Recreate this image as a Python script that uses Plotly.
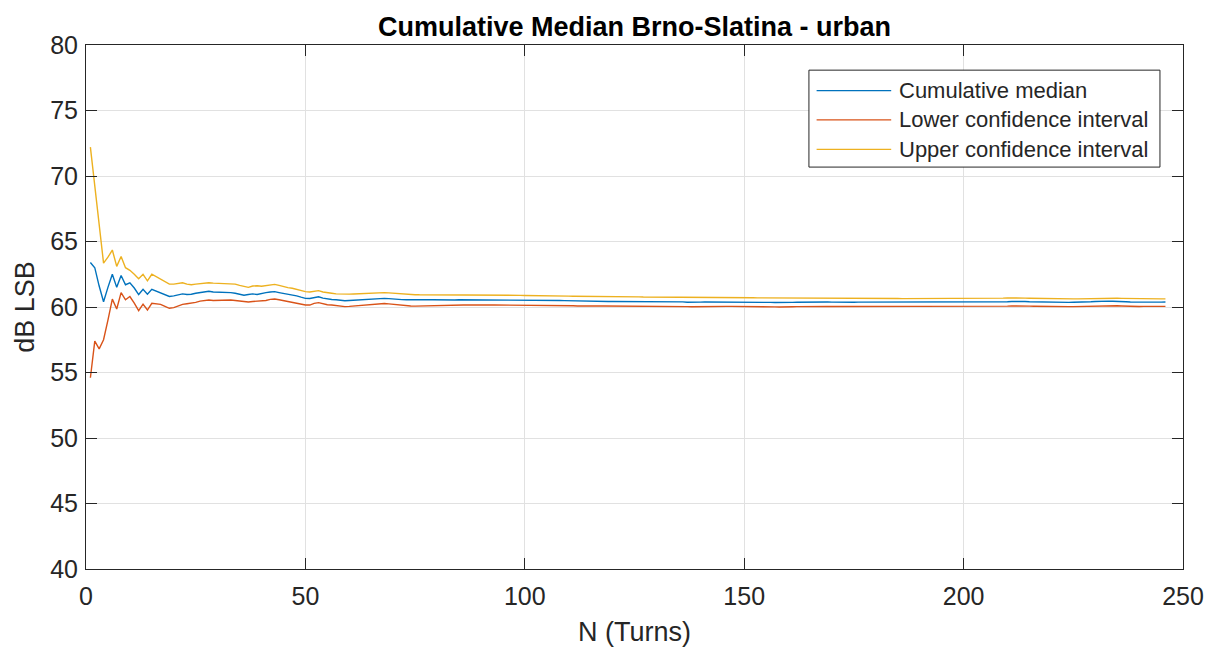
import plotly.graph_objects as go

# Turn index
turns = list(range(1, 247))

# Cumulative median of the measured level (dB LSB)
cum_median = [
    63.40, 63.00, 61.60, 60.40, 61.50, 62.50, 61.50, 62.40, 61.70, 61.85,
    61.45, 60.95, 61.35, 60.97, 61.35, 61.20, 61.10, 60.95, 60.80, 60.85,
    60.90, 61.00, 60.95, 60.97, 61.05, 61.10, 61.15, 61.20, 61.15, 61.15,
    61.10, 61.12, 61.10, 61.05, 61.00, 60.90, 60.95, 61.00, 60.95, 61.05,
    61.10, 61.15, 61.17, 61.10, 61.05, 61.00, 60.92, 60.85, 60.75, 60.66,
    60.65, 60.72, 60.78, 60.68, 60.60, 60.57, 60.55, 60.50, 60.48, 60.50,
    60.52, 60.55, 60.58, 60.60, 60.62, 60.64, 60.66, 60.66, 60.64, 60.60,
    60.58, 60.56, 60.55, 60.54, 60.53, 60.53, 60.54, 60.55, 60.55, 60.54,
    60.53, 60.53, 60.54, 60.54, 60.55, 60.55, 60.54, 60.53, 60.53, 60.53,
    60.54, 60.54, 60.53, 60.53, 60.53, 60.54, 60.54, 60.53, 60.53, 60.53,
    60.53, 60.52, 60.52, 60.51, 60.51, 60.50, 60.50, 60.50, 60.49, 60.48,
    60.46, 60.44, 60.43, 60.43, 60.42, 60.42, 60.43, 60.43, 60.42, 60.42,
    60.42, 60.42, 60.42, 60.42, 60.42, 60.42, 60.42, 60.41, 60.40, 60.38,
    60.37, 60.38, 60.40, 60.42, 60.41, 60.39, 60.36, 60.35, 60.36, 60.37,
    60.38, 60.38, 60.38, 60.38, 60.38, 60.38, 60.38, 60.38, 60.38, 60.38,
    60.38, 60.39, 60.40, 60.39, 60.37, 60.35, 60.34, 60.33, 60.32, 60.33,
    60.35, 60.36, 60.37, 60.37, 60.36, 60.36, 60.37, 60.38, 60.38, 60.37,
    60.36, 60.36, 60.36, 60.36, 60.36, 60.37, 60.37, 60.36, 60.36, 60.36,
    60.36, 60.36, 60.36, 60.36, 60.36, 60.35, 60.35, 60.35, 60.35, 60.35,
    60.35, 60.35, 60.35, 60.35, 60.35, 60.35, 60.35, 60.35, 60.35, 60.35,
    60.35, 60.36, 60.36, 60.37, 60.37, 60.38, 60.38, 60.38, 60.39, 60.40,
    60.42, 60.43, 60.43, 60.42, 60.40, 60.39, 60.38, 60.37, 60.36, 60.35,
    60.35, 60.35, 60.35, 60.35, 60.36, 60.36, 60.37, 60.38, 60.40, 60.42,
    60.44, 60.45, 60.45, 60.44, 60.44, 60.42, 60.40, 60.38, 60.37, 60.37,
    60.38, 60.38, 60.38, 60.37, 60.37, 60.38,
]

# Lower bound of the confidence interval
lower_ci = [
    54.60, 57.40, 56.80, 57.50, 59.00, 60.60, 59.85, 61.10, 60.55, 60.80,
    60.30, 59.72, 60.22, 59.77, 60.28, 60.22, 60.20, 60.05, 59.90, 59.95,
    60.10, 60.20, 60.25, 60.28, 60.35, 60.45, 60.50, 60.53, 60.50, 60.52,
    60.50, 60.52, 60.53, 60.50, 60.45, 60.38, 60.38, 60.42, 60.45, 60.45,
    60.50, 60.58, 60.61, 60.55, 60.48, 60.42, 60.36, 60.30, 60.20, 60.15,
    60.15, 60.28, 60.33, 60.25, 60.17, 60.15, 60.10, 60.05, 60.03, 60.05,
    60.08, 60.12, 60.16, 60.20, 60.23, 60.26, 60.28, 60.27, 60.24, 60.20,
    60.16, 60.13, 60.10, 60.08, 60.07, 60.08, 60.10, 60.12, 60.13, 60.13,
    60.13, 60.13, 60.14, 60.14, 60.15, 60.15, 60.15, 60.14, 60.14, 60.14,
    60.15, 60.15, 60.15, 60.15, 60.15, 60.15, 60.15, 60.15, 60.15, 60.15,
    60.15, 60.15, 60.14, 60.14, 60.14, 60.14, 60.13, 60.13, 60.13, 60.12,
    60.10, 60.08, 60.07, 60.07, 60.07, 60.07, 60.08, 60.08, 60.08, 60.08,
    60.08, 60.08, 60.08, 60.08, 60.08, 60.08, 60.08, 60.07, 60.06, 60.05,
    60.04, 60.05, 60.07, 60.08, 60.07, 60.05, 60.03, 60.02, 60.03, 60.04,
    60.05, 60.05, 60.05, 60.05, 60.05, 60.05, 60.05, 60.05, 60.05, 60.05,
    60.05, 60.06, 60.06, 60.05, 60.04, 60.02, 60.01, 60.00, 59.99, 60.00,
    60.02, 60.03, 60.04, 60.04, 60.03, 60.03, 60.04, 60.05, 60.05, 60.04,
    60.04, 60.04, 60.04, 60.04, 60.04, 60.04, 60.04, 60.03, 60.03, 60.03,
    60.03, 60.03, 60.03, 60.03, 60.03, 60.03, 60.03, 60.02, 60.02, 60.02,
    60.02, 60.02, 60.02, 60.02, 60.02, 60.02, 60.02, 60.02, 60.02, 60.02,
    60.02, 60.03, 60.03, 60.04, 60.04, 60.05, 60.05, 60.05, 60.06, 60.07,
    60.08, 60.09, 60.09, 60.08, 60.07, 60.06, 60.05, 60.04, 60.03, 60.03,
    60.03, 60.03, 60.03, 60.03, 60.03, 60.04, 60.04, 60.05, 60.06, 60.08,
    60.10, 60.11, 60.11, 60.10, 60.09, 60.08, 60.06, 60.05, 60.04, 60.04,
    60.05, 60.05, 60.05, 60.04, 60.04, 60.05,
]

# Upper bound of the confidence interval
upper_ci = [
    72.20, 69.40, 66.40, 63.35, 63.80, 64.35, 63.10, 63.85, 63.00, 62.80,
    62.50, 62.15, 62.50, 62.00, 62.50, 62.30, 62.15, 61.90, 61.75, 61.75,
    61.80, 61.85, 61.75, 61.70, 61.75, 61.80, 61.85, 61.85, 61.82, 61.80,
    61.78, 61.80, 61.78, 61.75, 61.65, 61.55, 61.50, 61.60, 61.62, 61.58,
    61.62, 61.70, 61.73, 61.65, 61.55, 61.48, 61.43, 61.35, 61.25, 61.17,
    61.15, 61.22, 61.25, 61.15, 61.08, 61.05, 61.00, 60.98, 60.97, 60.98,
    60.99, 61.01, 61.03, 61.05, 61.07, 61.09, 61.10, 61.10, 61.08, 61.05,
    61.02, 61.00, 60.98, 60.96, 60.94, 60.93, 60.93, 60.94, 60.94, 60.94,
    60.93, 60.93, 60.93, 60.93, 60.94, 60.94, 60.93, 60.92, 60.92, 60.92,
    60.92, 60.91, 60.91, 60.90, 60.90, 60.90, 60.90, 60.89, 60.89, 60.88,
    60.88, 60.87, 60.86, 60.86, 60.85, 60.85, 60.84, 60.84, 60.83, 60.83,
    60.82, 60.82, 60.81, 60.81, 60.80, 60.80, 60.80, 60.79, 60.79, 60.79,
    60.78, 60.78, 60.78, 60.77, 60.77, 60.77, 60.76, 60.76, 60.76, 60.75,
    60.75, 60.75, 60.75, 60.74, 60.74, 60.74, 60.73, 60.73, 60.73, 60.73,
    60.72, 60.72, 60.72, 60.72, 60.72, 60.71, 60.71, 60.71, 60.71, 60.71,
    60.71, 60.71, 60.70, 60.70, 60.70, 60.70, 60.70, 60.69, 60.69, 60.69,
    60.69, 60.69, 60.69, 60.69, 60.68, 60.68, 60.68, 60.68, 60.68, 60.67,
    60.67, 60.67, 60.67, 60.67, 60.66, 60.66, 60.66, 60.66, 60.66, 60.65,
    60.65, 60.65, 60.65, 60.65, 60.65, 60.64, 60.64, 60.64, 60.64, 60.64,
    60.64, 60.64, 60.64, 60.63, 60.63, 60.63, 60.63, 60.63, 60.63, 60.63,
    60.63, 60.63, 60.64, 60.64, 60.65, 60.65, 60.66, 60.67, 60.68, 60.69,
    60.70, 60.70, 60.69, 60.68, 60.67, 60.66, 60.65, 60.64, 60.63, 60.63,
    60.62, 60.62, 60.62, 60.62, 60.62, 60.62, 60.63, 60.64, 60.65, 60.67,
    60.68, 60.69, 60.69, 60.68, 60.67, 60.66, 60.65, 60.64, 60.63, 60.63,
    60.63, 60.62, 60.62, 60.62, 60.62, 60.62,
]

series_names = ["Cumulative median", "Lower confidence interval", "Upper confidence interval"]
series_colors = ["#0072BD", "#D95319", "#EDB120"]
x_ticks = [0, 50, 100, 150, 200, 250]
y_ticks = [40, 45, 50, 55, 60, 65, 70, 75, 80]

AXIS_COLOR = "#262626"
FONT = "Liberation Sans, Arial, Helvetica, sans-serif"

fig = go.Figure()
for name, values, color in zip(series_names, [cum_median, lower_ci, upper_ci], series_colors):
    fig.add_trace(go.Scatter(
        x=turns, y=values, mode="lines", name=name,
        line=dict(color=color, width=1.4),
        showlegend=False,
    ))

axis_common = dict(
    showline=True, linecolor=AXIS_COLOR, linewidth=1, mirror="ticks",
    ticks="inside", ticklen=11, tickcolor=AXIS_COLOR, tickwidth=1,
    showgrid=True, gridcolor="#e1e1e1", gridwidth=1,
    zeroline=False, automargin=False,
    tickfont=dict(family=FONT, size=25, color=AXIS_COLOR),
)

fig.update_xaxes(
    range=[0, 250], tickvals=x_ticks, ticktext=[str(v) for v in x_ticks],
    title=dict(text="N (Turns)", font=dict(family=FONT, size=27, color=AXIS_COLOR), standoff=13),
    ticklabelstandoff=5,
    **axis_common,
)
fig.update_yaxes(
    range=[40, 80], tickvals=y_ticks, ticktext=[str(v) for v in y_ticks],
    title=dict(text="dB LSB", font=dict(family=FONT, size=27, color=AXIS_COLOR), standoff=7),
    ticklabelstandoff=2,
    **axis_common,
)

# Legend panel drawn in plot-area paper coordinates
lx0, lx1, ly0, ly1 = 0.659, 0.979, 0.767, 0.952
shapes = [dict(type="rect", xref="paper", yref="paper", x0=lx0, x1=lx1, y0=ly0, y1=ly1,
               line=dict(color=AXIS_COLOR, width=1), fillcolor="white", layer="above")]
annotations = []
row_y = [0.913, 0.857, 0.801]
for name, color, yy in zip(series_names, series_colors, row_y):
    shapes.append(dict(type="line", xref="paper", yref="paper", x0=0.666, x1=0.734, y0=yy, y1=yy,
                       line=dict(color=color, width=1.3), layer="above"))
    annotations.append(dict(xref="paper", yref="paper", x=0.739, y=yy, text=name,
                            showarrow=False, xanchor="left", yanchor="middle",
                            font=dict(family=FONT, size=22, color=AXIS_COLOR)))

fig.update_layout(
    width=1207, height=647,
    margin=dict(l=86, r=24, t=45, b=78),
    paper_bgcolor="white", plot_bgcolor="white",
    title=dict(text="<b>Cumulative Median Brno-Slatina - urban</b>",
               font=dict(family=FONT, size=27, color="black"),
               x=0.5257, xanchor="center", xref="container",
               y=1 - 27 / 647, yanchor="middle", yref="container"),
    shapes=shapes, annotations=annotations,
)

fig.write_html("out.html")
